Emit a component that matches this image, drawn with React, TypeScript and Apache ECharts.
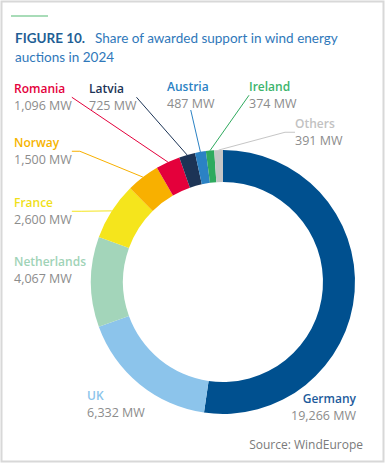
import React, { useEffect, useRef } from 'react';
import * as echarts from 'echarts';

const countries = ['Germany', 'UK', 'Netherlands', 'France', 'Norway', 'Romania', 'Latvia', 'Austria', 'Ireland', 'Others'];
const capacityMW = [19266, 6332, 4067, 2600, 1500, 1096, 725, 487, 374, 391];
const sliceColors = ['#00508f', '#8cc4eb', '#a3d5ba', '#f5e51c', '#f8b000', '#e4003b', '#1c3456', '#2b82c4', '#2faa5e', '#c6c6c6'];
const nameColors = ['#1d5b9c', '#8cc4eb', '#9fd3b7', '#f0df1a', '#f6b400', '#e4003b', '#1c3456', '#2b82c4', '#3cb46c', '#c2c2c2'];
const titleBold = 'FIGURE 10.';
const titleLines = ['Share of awarded support in wind energy', 'auctions in 2024'];
const sourceText = 'Source: WindEurope';
const unit = 'MW';

const labelPlaces = [
  { x: 356, y: 390, align: 'right' },
  { x: 87, y: 387, align: 'left' },
  { x: 14, y: 253, align: 'left' },
  { x: 14, y: 194, align: 'left' },
  { x: 14, y: 134, align: 'left' },
  { x: 14, y: 80, align: 'left' },
  { x: 89, y: 80, align: 'left' },
  { x: 167, y: 78, align: 'left' },
  { x: 249, y: 78, align: 'left' },
  { x: 295, y: 115, align: 'left' },
];
const secondSegment = [0, 0, 0, 10, 8, 0, 0, 0, 0, 10];

export default function App() {
  const ref = useRef<HTMLDivElement>(null);
  useEffect(() => {
    if (!ref.current) return;
    const chart = echarts.init(ref.current, null, { renderer: 'svg' });
    const rich: Record<string, any> = {
      v: { fontFamily: 'Open Sans', fontSize: 12.5, color: '#8c8c8c', lineHeight: 17 },
    };
    nameColors.forEach((c, i) => {
      rich['n' + i] = { fontFamily: 'Open Sans', fontSize: 12, fontWeight: 600, color: c, lineHeight: 17 };
    });
    const data = countries.map((name, i) => ({
      name,
      value: capacityMW[i],
      itemStyle: { color: sliceColors[i] },
      labelLine: {
        show: i >= 3,
        length: 10,
        length2: secondSegment[i],
        lineStyle: { color: sliceColors[i], width: 1 },
      },
    }));
    chart.setOption({
      animation: false,
      backgroundColor: '#ffffff',
      title: {
        left: 10,
        top: 23,
        text: `{b|${titleBold}}  {n|${titleLines[0]}}\n{n|${titleLines[1]}}`,
        textStyle: {
          fontWeight: 'normal',
          rich: {
            b: { fontFamily: 'Lato', fontSize: 13.5, fontWeight: 'bold', color: '#1f5f95', lineHeight: 19 },
            n: { fontFamily: 'Lato', fontSize: 13.5, fontWeight: 'normal', color: '#2f78ba', lineHeight: 19 },
          },
        },
      },
      graphic: [
        {
          type: 'rect',
          shape: { x: 1.5, y: 1.5, width: 382, height: 460 },
          style: { fill: 'none', stroke: '#d8d8d8', lineWidth: 2 },
          silent: true,
        },
        {
          type: 'line',
          shape: { x1: 11, y1: 16, x2: 48, y2: 16 },
          style: { stroke: '#a8dcb8', lineWidth: 2 },
          silent: true,
        },
        {
          type: 'text',
          right: 24,
          top: 438,
          style: { text: sourceText, fontFamily: 'Open Sans', fontSize: 12, fill: '#7a7a7a' },
        },
      ],
      series: [
        {
          type: 'pie',
          center: [223, 282],
          radius: [100, 132],
          startAngle: 90,
          clockwise: true,
          avoidLabelOverlap: false,
          silent: true,
          label: {
            show: true,
            position: 'outside',
            formatter: (p: any) => `{n${p.dataIndex}|${p.name}}\n{v|${p.value.toLocaleString('en-US')} ${unit}}`,
            rich,
          },
          labelLayout: (p: any) => {
            const pl = labelPlaces[p.dataIndex];
            return { x: pl.x, y: pl.y, align: pl.align, verticalAlign: 'top' };
          },
          data,
        },
      ],
    });
    return () => chart.dispose();
  }, []);
  return (
    <div
      ref={ref}
      style={{ position: 'fixed', left: 0, top: 0, width: 387, height: 469, background: '#fff' }}
    />
  );
}
